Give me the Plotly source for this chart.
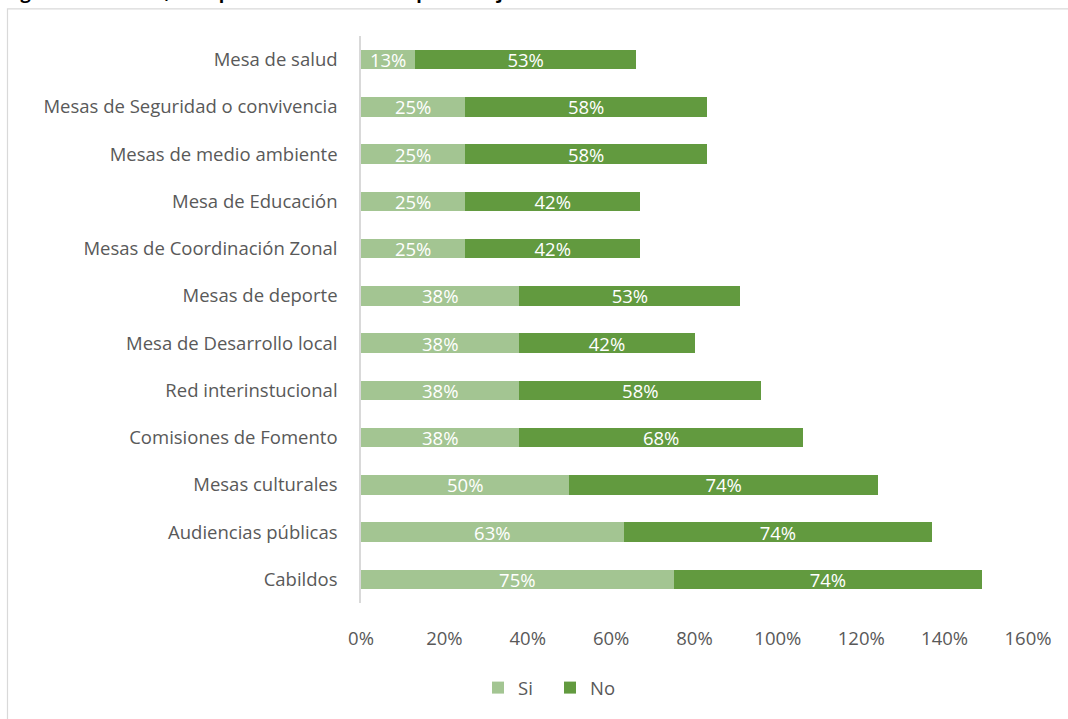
import plotly.graph_objects as go

# Participation spaces (bottom to top as drawn)
categorias = [
    "Cabildos",
    "Audiencias públicas",
    "Mesas culturales",
    "Comisiones de Fomento",
    "Red interinstucional",
    "Mesa de Desarrollo local",
    "Mesas de deporte",
    "Mesas de Coordinación Zonal",
    "Mesa de Educación",
    "Mesas de medio ambiente",
    "Mesas de Seguridad o convivencia",
    "Mesa de salud",
]
si = [75, 63, 50, 38, 38, 38, 38, 25, 25, 25, 25, 13]
no = [74, 74, 74, 68, 58, 42, 53, 42, 42, 58, 58, 53]

tick_vals = [0, 20, 40, 60, 80, 100, 120, 140, 160]
tick_text = [f"{v}%" for v in tick_vals]

titulo = "según el el alcalde, su repito o no mandato en porcentajes."

FONT = "Open Sans"
FS = 18.5
W, H = 1068, 719
L, R, T, B = 361, 40, 36, 108
pw, ph = W - L - R, H - T - B

fig = go.Figure()
fig.add_trace(go.Bar(
    y=categorias, x=si, name="Si", orientation="h",
    marker=dict(color="#A3C592", line=dict(width=0)),
    text=[f"{v}%" for v in si], textposition="inside", insidetextanchor="middle",
    textfont=dict(color="white", size=FS, family=FONT),
))
fig.add_trace(go.Bar(
    y=categorias, x=no, name="No", orientation="h",
    marker=dict(color="#629A3F", line=dict(width=0)),
    text=[f"{v}%" for v in no], textposition="inside", insidetextanchor="middle",
    textfont=dict(color="white", size=FS, family=FONT),
))

def px_x(p):
    return (p - L) / pw

def px_y(p):
    return (H - B - p) / ph

fig.update_layout(
    width=W, height=H,
    barmode="stack", bargap=0.59,
    plot_bgcolor="white", paper_bgcolor="white",
    margin=dict(l=L, r=R, t=T, b=B),
    font=dict(family=FONT, color="#595959", size=FS),
    uniformtext=dict(mode="show", minsize=FS),
    xaxis=dict(range=[0, 160], tickvals=tick_vals, ticktext=tick_text,
               showgrid=False, zeroline=False, showline=False,
               ticks="", ticklabelstandoff=22,
               tickfont=dict(size=FS, color="#595959")),
    yaxis=dict(categoryorder="array", categoryarray=categorias,
               showgrid=False, zeroline=False, showline=True,
               linecolor="#D9D9D9", linewidth=1.5, ticks="",
               ticklabelstandoff=18,
               tickfont=dict(size=FS, color="#595959")),
    legend=dict(orientation="h", x=px_x(550), xanchor="center", y=px_y(678), yanchor="top",
                font=dict(size=FS, color="#595959"), traceorder="normal",
                itemwidth=30, entrywidth=27, entrywidthmode="pixels"),
    showlegend=True,
    shapes=[
        dict(type="rect", xref="paper", yref="paper",
             x0=px_x(7.5), x1=px_x(1100), y0=px_y(760), y1=px_y(8.5),
             line=dict(color="#D9D9D9", width=1.2), fillcolor="rgba(0,0,0,0)",
             layer="below"),
    ],
    annotations=[
        dict(text=f"<b>{titulo}</b>", xref="paper", yref="paper",
             x=px_x(-1), y=px_y(6), xanchor="left", yanchor="bottom",
             showarrow=False, font=dict(size=18, color="black", family=FONT)),
    ],
)

fig.write_html("out.html")
